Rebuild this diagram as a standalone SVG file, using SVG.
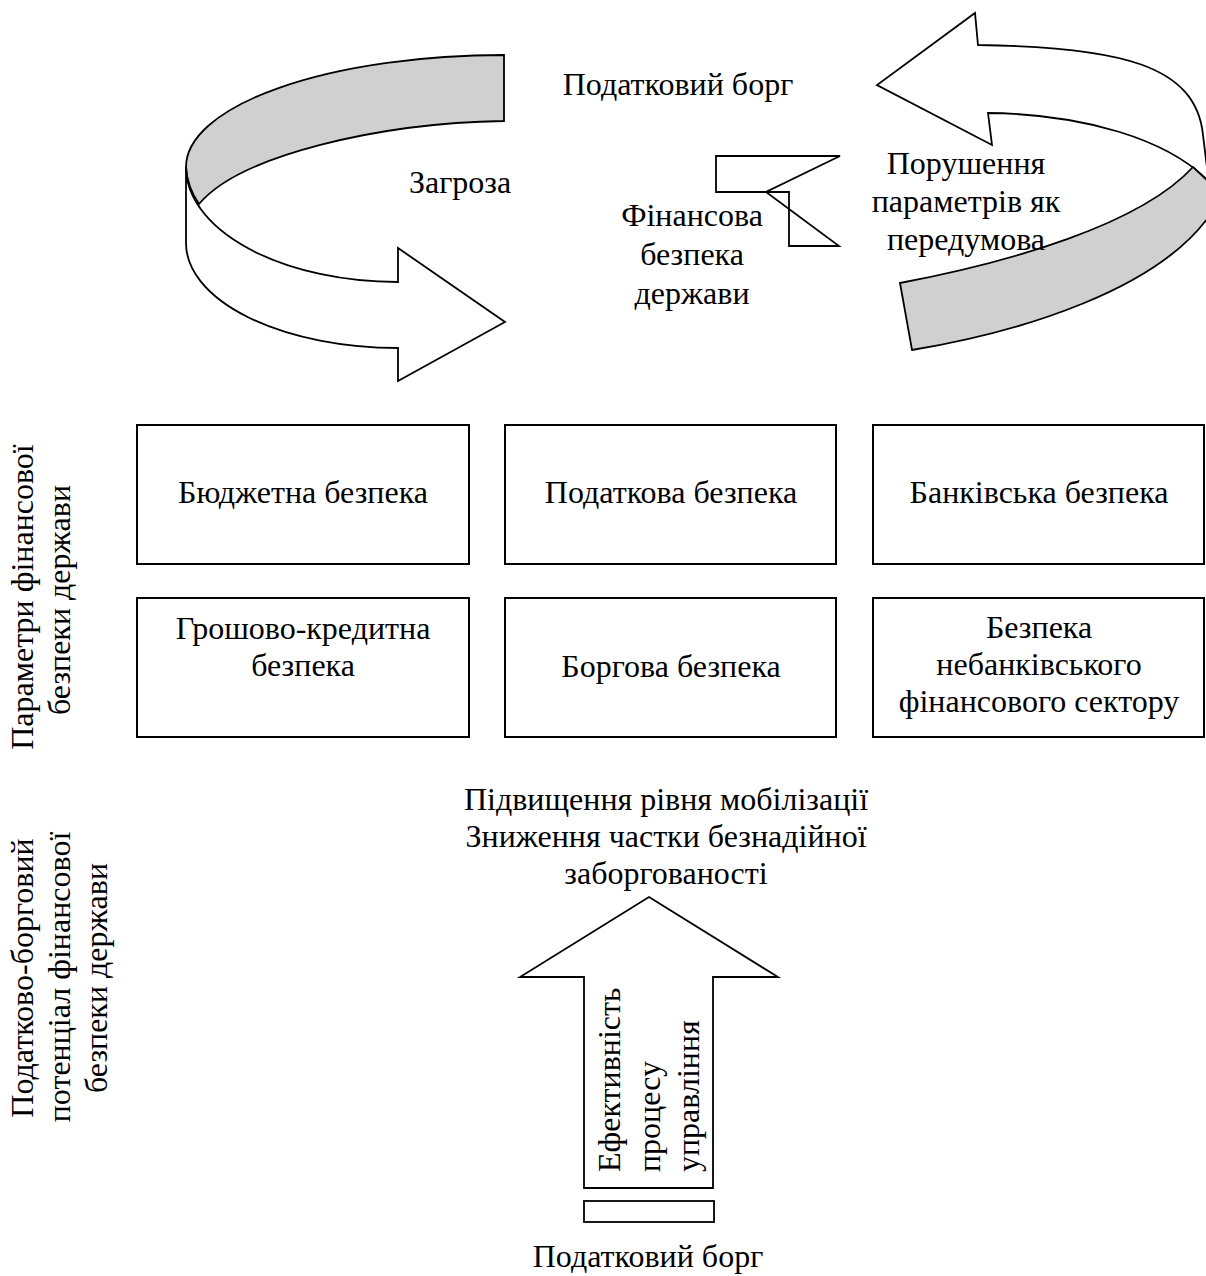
<svg xmlns="http://www.w3.org/2000/svg" width="1206" height="1276" viewBox="0 0 1206 1276">
<style>
text{font-family:"Liberation Serif","DejaVu Serif",serif;font-size:32px;fill:#000}
.c{text-anchor:middle}
.box{fill:#fff;stroke:#000;stroke-width:2}
.ln{fill:#fff;stroke:#000;stroke-width:1.8;stroke-linejoin:miter}
.gr{fill:#d0d0d0;stroke:#000;stroke-width:1.8}
.no{fill:none;stroke:#000;stroke-width:1.8}
</style>
<rect width="1206" height="1276" fill="#fff"/>
<g id="connectors">
  <g id="arrow-left">
    <path class="gr" d="M186,167 A318,112 0 0 1 504,55 L504,121 C380,123 240,155 199,204 A212,115 0 0 1 186,167 Z"/>
    <path class="ln" d="M186,167 A212,115 0 0 0 398,282 L398,248 L505,322 L398,381 L398,348 A212,105 0 0 1 186,243 Z"/>
  </g>
  <g id="arrow-right">
    <path class="ln" d="M988,113 L992,145 L877,85 L975,13 L978,45 C1120,47 1196,65 1203,135 C1206,160 1210,190 1212,215 L1212,185 C1170,138 1080,114 988,113 Z"/>
    <path class="gr" d="M900,283 C1010,262 1140,225 1193,167 L1212,185 L1212,212 C1160,290 1020,332 912,350 Z"/>
  </g>
  <g id="arrow-small">
    <polygon class="no" points="716,156 840,156 766,192 839,246 789,246 789,192 716,192"/>
  </g>
  <g id="arrow-up">
    <polygon class="ln" points="649,897 778,977 713,977 713,1188 584,1188 584,977 520,977"/>
    <rect class="ln" x="584" y="1201" width="130" height="21"/>
  </g>
</g>
<g id="label-top">
  <text class="c" x="678" y="95">Податковий борг</text>
</g>
<g id="label-threat">
  <text class="c" x="460" y="193">Загроза</text>
</g>
<g id="label-center">
  <text class="c" x="692" y="226">Фінансова</text>
  <text class="c" x="692" y="265">безпека</text>
  <text class="c" x="692" y="304">держави</text>
</g>
<g id="label-violation">
  <text class="c" x="966" y="174">Порушення</text>
  <text class="c" x="966" y="212">параметрів як</text>
  <text class="c" x="966" y="250">передумова</text>
</g>
<g id="side-params">
  <text class="c" transform="translate(33,597) rotate(-90)">Параметри фінансової</text>
  <text class="c" transform="translate(70,600) rotate(-90)">безпеки держави</text>
</g>
<g id="side-potential">
  <text class="c" transform="translate(33,978) rotate(-90)">Податково-борговий</text>
  <text class="c" transform="translate(70,977) rotate(-90)">потенціал фінансової</text>
  <text class="c" transform="translate(107,978) rotate(-90)">безпеки держави</text>
</g>
<g id="box-budget">
  <rect class="box" x="137" y="425" width="332" height="139"/>
  <text class="c" x="303" y="503">Бюджетна безпека</text>
</g>
<g id="box-tax">
  <rect class="box" x="505" y="425" width="331" height="139"/>
  <text class="c" x="671" y="503">Податкова безпека</text>
</g>
<g id="box-bank">
  <rect class="box" x="873" y="425" width="331" height="139"/>
  <text class="c" x="1039" y="503">Банківська безпека</text>
</g>
<g id="box-monetary">
  <rect class="box" x="137" y="598" width="332" height="139"/>
  <text class="c" x="303" y="639">Грошово-кредитна</text>
  <text class="c" x="303" y="676">безпека</text>
</g>
<g id="box-debt">
  <rect class="box" x="505" y="598" width="331" height="139"/>
  <text class="c" x="671" y="677">Боргова безпека</text>
</g>
<g id="box-nonbank">
  <rect class="box" x="873" y="598" width="331" height="139"/>
  <text class="c" x="1039" y="638">Безпека</text>
  <text class="c" x="1039" y="675">небанківського</text>
  <text class="c" x="1039" y="712">фінансового сектору</text>
</g>
<g id="label-mobilization">
  <text class="c" x="666" y="810">Підвищення рівня мобілізації</text>
  <text class="c" x="666" y="847">Зниження частки безнадійної</text>
  <text class="c" x="666" y="884">заборгованості</text>
</g>
<g id="label-arrow">
  <text transform="translate(620,1172) rotate(-90)">Ефективність</text>
  <text transform="translate(660,1172) rotate(-90)">процесу</text>
  <text transform="translate(699,1172) rotate(-90)">управління</text>
</g>
<g id="label-bottom">
  <text class="c" x="648" y="1267">Податковий борг</text>
</g>
</svg>
